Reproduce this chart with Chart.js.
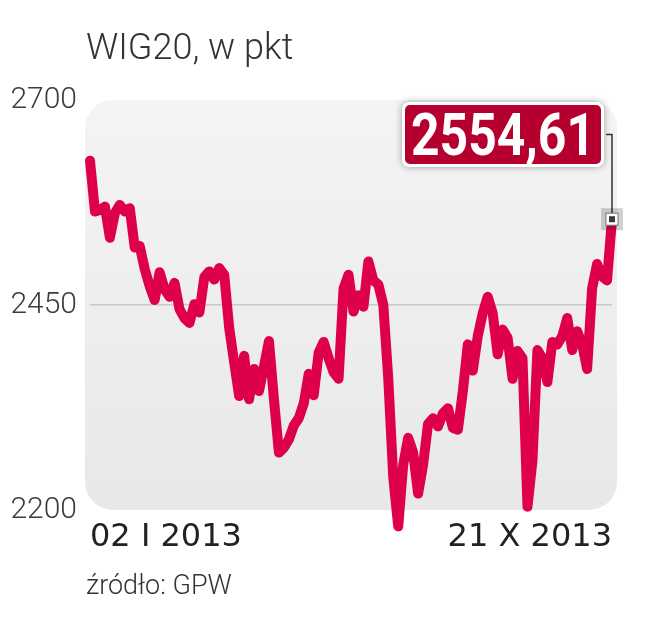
<!DOCTYPE html>
<html>
<head>
<meta charset="utf-8">
<script src="https://cdn.jsdelivr.net/npm/chart.js@4.4.1/dist/chart.umd.min.js"></script>
<style>
  body { margin: 0; background: #fff; }
  #wrap { position: relative; width: 660px; height: 636px; }
  #title { position: absolute; left: 86px; top: 29px; font: 300 36px Roboto, sans-serif; color: #333; line-height: 36px; white-space: nowrap; }
  #source { position: absolute; left: 86px; top: 572px; font: 300 27px Roboto, sans-serif; color: #333; line-height: 27px; white-space: nowrap; }
  canvas { position: absolute; left: 0; top: 0; }
</style>
</head>
<body>
<div id="wrap">
  <canvas id="wigChart" width="660" height="636"></canvas>
  <div id="title">WIG20, w pkt</div>
  <div id="source">źródło: GPW</div>
</div>
<script>
// WIG20 closing values (approx. every second session)
const wig20 = [
  2626, 2564, 2566, 2570, 2532, 2562, 2572, 2564, 2568, 2520,
  2522, 2494, 2473, 2456, 2490, 2469, 2460, 2477, 2445, 2434,
  2428, 2451, 2441, 2484, 2491, 2481, 2495, 2487, 2422, 2380,
  2339, 2388, 2335, 2372, 2345, 2375, 2406, 2335, 2270, 2276,
  2286, 2303, 2312, 2330, 2366, 2340, 2392, 2405, 2385, 2368,
  2360, 2470, 2487, 2442, 2462, 2448, 2503, 2480, 2475, 2450,
  2360, 2240, 2180, 2255, 2288, 2270, 2220, 2255, 2305, 2312,
  2302, 2318, 2324, 2300, 2298, 2345, 2402, 2370, 2412, 2440,
  2460, 2440, 2390, 2420, 2410, 2360, 2394, 2385, 2204, 2260,
  2395, 2385, 2356, 2405, 2402, 2412, 2434, 2395, 2418, 2402,
  2372, 2470, 2500, 2485, 2480, 2554.61
];
const sessions = wig20.map((v, i) => i);
const xLabels = ['02 I 2013', '21 X 2013'];
const yTicks = [2200, 2450, 2700];

const lineColor = '#de004d';
const boxColor = '#b5002f';

// rounded grey panel behind the line
const panelPlugin = {
  id: 'panel',
  beforeDraw(chart) {
    const { ctx, chartArea: a } = chart;
    const g = ctx.createLinearGradient(0, a.top, 0, a.bottom);
    g.addColorStop(0, '#f4f4f4');
    g.addColorStop(1, '#e8e8e8');
    ctx.save();
    ctx.fillStyle = g;
    ctx.beginPath();
    ctx.roundRect(a.left - 5, a.top, a.right - a.left + 10, a.bottom - a.top, 28);
    ctx.fill();
    ctx.restore();
  }
};

// value box + connector + end marker
const lastValuePlugin = {
  id: 'lastValue',
  afterDatasetsDraw(chart) {
    const { ctx, chartArea: a } = chart;
    const meta = chart.getDatasetMeta(0);
    const pt = meta.data[meta.data.length - 1];
    const val = wig20[wig20.length - 1];
    const right = pt.x - 8, left = right - 202;
    const top = a.top + 2, bottom = a.top + 67;
    const midY = (top + bottom) / 2;

    ctx.save();
    // connector
    ctx.strokeStyle = '#333';
    ctx.lineWidth = 1.5;
    ctx.beginPath();
    ctx.moveTo(right + 2, midY);
    ctx.lineTo(pt.x, midY);
    ctx.lineTo(pt.x, pt.y - 6);
    ctx.stroke();

    // box
    ctx.shadowColor = 'rgba(0,0,0,0.35)';
    ctx.shadowBlur = 7;
    ctx.fillStyle = '#fff';
    ctx.beginPath();
    ctx.roundRect(left, top, right - left, bottom - top, 7);
    ctx.fill();
    ctx.shadowBlur = 0;
    ctx.shadowColor = 'transparent';
    ctx.fillStyle = boxColor;
    ctx.beginPath();
    ctx.roundRect(left + 3, top + 3, right - left - 6, bottom - top - 6, 5);
    ctx.fill();

    ctx.fillStyle = '#fff';
    ctx.font = 'bold 60px Roboto, sans-serif';
    ctx.textAlign = 'center';
    ctx.textBaseline = 'alphabetic';
    ctx.fillText(val.toFixed(2).replace('.', ','), (left + right) / 2, bottom - 12, right - left - 18);

    // end marker
    ctx.fillStyle = 'rgba(0,0,0,0.18)';
    ctx.fillRect(pt.x - 11, pt.y - 11, 22, 22);
    ctx.fillStyle = '#fff';
    ctx.fillRect(pt.x - 6, pt.y - 6, 12, 12);
    ctx.strokeStyle = '#777';
    ctx.lineWidth = 1;
    ctx.strokeRect(pt.x - 6, pt.y - 6, 12, 12);
    ctx.fillStyle = '#3a3a3a';
    ctx.fillRect(pt.x - 3, pt.y - 3, 6, 6);
    ctx.restore();
  }
};

new Chart(document.getElementById('wigChart'), {
  type: 'line',
  data: {
    labels: sessions,
    datasets: [{
      data: wig20,
      borderColor: lineColor,
      borderWidth: 10,
      borderJoinStyle: 'round',
      borderCapStyle: 'round',
      pointRadius: 0,
      tension: 0,
      clip: false
    }]
  },
  options: {
    responsive: false,
    devicePixelRatio: 1,
    animation: false,
    layout: { padding: { left: 12, right: 48, top: 100, bottom: 86 } },
    plugins: { legend: { display: false }, tooltip: { enabled: false } },
    scales: {
      x: {
        grid: { display: false },
        border: { display: false },
        afterFit(scale) { scale.height = 40; },
        ticks: {
          autoSkip: false,
          maxRotation: 0,
          align: 'inner',
          padding: 0,
          color: '#222',
          font: { family: 'DejaVu Sans', size: 32 },
          callback: (v, i, ticks) => i === 0 ? xLabels[0] : (i === ticks.length - 1 ? xLabels[1] : '')
        }
      },
      y: {
        min: yTicks[0],
        max: yTicks[yTicks.length - 1],
        afterFit(scale) { scale.width = 78; },
        afterBuildTicks(scale) { scale.ticks = yTicks.map(v => ({ value: v })); },
        border: { display: false },
        grid: {
          drawTicks: false,
          lineWidth: 1.5,
          color: c => c.tick && c.tick.value === yTicks[1] ? '#c8c8c8' : 'transparent'
        },
        ticks: {
          padding: 13,
          color: '#3c3c3c',
          font: { family: 'Roboto', size: 30, weight: 300 },
          callback: v => String(v)
        }
      }
    }
  },
  plugins: [panelPlugin, lastValuePlugin]
});
</script>
</body>
</html>
